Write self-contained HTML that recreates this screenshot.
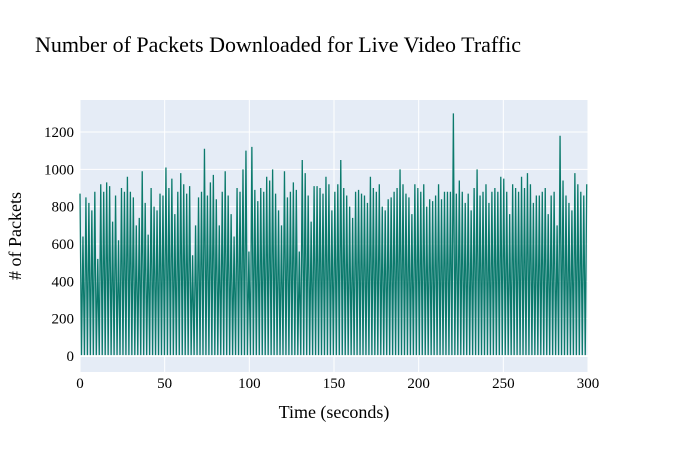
<!DOCTYPE html>
<html><head><meta charset="utf-8"><style>
body{margin:0;background:#fff}
svg text{font-family:"Liberation Serif",serif;fill:#000}
</style></head><body>
<svg id="chart" width="700" height="450">
<text x="35" y="52" font-size="22">Number of Packets Downloaded for Live Video Traffic</text>
<rect x="80" y="100" width="508" height="272" fill="#e5ecf6"/>
<g id="grid"></g><g id="ticks"></g><g id="series"></g>
<text x="334" y="418" font-size="18" text-anchor="middle">Time (seconds)</text>
<text transform="translate(21,236) rotate(-90)" font-size="18" text-anchor="middle"># of Packets</text>
</svg>
<script>
const xTicks=[0,50,100,150,200,250,300];
const yTicks=[0,200,400,600,800,1000,1200];
const peakInterval=1.75;
const valleyValue=5;
const peaks=[870,640,850,820,780,880,520,920,880,930,
910,720,860,620,900,880,960,880,850,700,
740,990,820,650,900,800,780,870,860,1010,
900,950,760,880,980,920,870,910,540,700,
850,880,1110,860,930,970,840,700,880,990,
860,760,640,900,880,1000,1100,560,1120,890,
830,900,880,960,940,1000,870,780,700,990,
850,880,930,890,560,1050,980,860,720,910,
910,900,870,960,920,780,880,920,1050,900,
860,800,740,880,890,870,860,820,960,900,
880,920,800,780,840,850,880,900,1000,920,
870,850,760,920,900,880,920,800,840,830,
860,920,840,880,880,880,1300,870,940,880,
820,870,780,900,1000,860,880,920,820,880,
900,880,960,950,880,760,920,900,880,960,
900,980,920,820,860,860,880,900,760,860,
880,700,1180,940,860,820,780,980,920,880,
860,920];
const X=v=>80+v*508/300, Y=v=>356-v*224/1200;
const NS="http://www.w3.org/2000/svg";
const g=document.getElementById('grid'),t=document.getElementById('ticks'),s=document.getElementById('series');
function mk(tag,at,p){const e=document.createElementNS(NS,tag);for(const k in at)e.setAttribute(k,at[k]);p.appendChild(e);return e;}
xTicks.forEach(v=>{
 const l=mk('line',{x1:X(v),x2:X(v),y1:100,y2:372,stroke:'#fff','stroke-width':1},g);
 
 
 const tx=mk('text',{x:X(v),y:388,'font-size':15,'text-anchor':'middle'},t);tx.textContent=v;
 
 
});
yTicks.forEach(v=>{
 const l=mk('line',{x1:80,x2:588,y1:Y(v),y2:Y(v),stroke:'#fff','stroke-width':v===0?2:1},g);
 
 
 const tx=mk('text',{x:74,y:Y(v)+5,'font-size':15,'text-anchor':'end'},t);tx.textContent=v;
 
 
});
let d='';
peaks.forEach((p,i)=>{
 const tp=i*peakInterval, tv=tp+peakInterval/2;
 d+=(i?'L':'M')+X(tp).toFixed(2)+','+Y(p).toFixed(2);
 if(tv<=300) d+='L'+X(tv).toFixed(2)+','+Y(valleyValue).toFixed(2);
});
const path=mk('path',{d:d,fill:'none',stroke:'#0b7a6c','stroke-width':1.3},s);


</script>
</body></html>
